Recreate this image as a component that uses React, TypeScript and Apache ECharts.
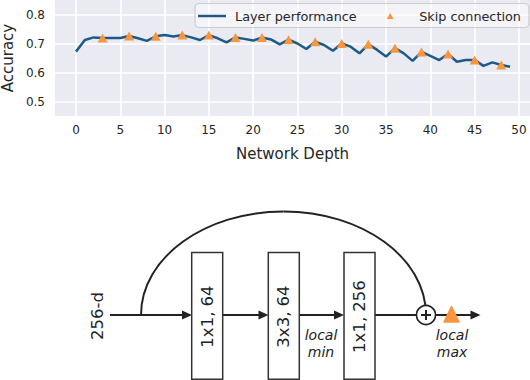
import React, { useEffect, useRef } from 'react';
import * as echarts from 'echarts';

// Accuracy at each network depth (index = depth 0..49)
const accuracy = [
  0.672, 0.712, 0.721, 0.719, 0.719, 0.719, 0.726, 0.718, 0.709, 0.725,
  0.729, 0.724, 0.729, 0.721, 0.712, 0.729, 0.718, 0.704, 0.721, 0.716,
  0.710, 0.721, 0.714, 0.697, 0.713, 0.700, 0.681, 0.706, 0.695, 0.675,
  0.700, 0.689, 0.666, 0.697, 0.678, 0.655, 0.684, 0.666, 0.640, 0.671,
  0.657, 0.643, 0.664, 0.637, 0.643, 0.643, 0.623, 0.635, 0.626, 0.620,
];
const skipDepths = [3, 6, 9, 12, 15, 18, 21, 24, 27, 30, 33, 36, 39, 42, 45, 48];
const xTicks = [0, 5, 10, 15, 20, 25, 30, 35, 40, 45, 50];
const yTicks = [0.5, 0.6, 0.7, 0.8];
const seriesNames = ['Layer performance', 'Skip connection'];
const blockLabels = ['1x1, 64', '3x3, 64', '1x1, 256'];

const LINE_BLUE = '#1d5a87';
const ORANGE = '#F8963F';
const TEXT = '#262626';
const INK = '#222222';
const FONT = 'DejaVu Sans';

function arrowHead(tipX: number, y: number) {
  return {
    type: 'polygon',
    shape: { points: [[tipX, y], [tipX - 10, y - 4.5], [tipX - 10, y + 4.5]] },
    style: { fill: INK },
  };
}

function hLine(x1: number, x2: number, y: number) {
  return {
    type: 'line',
    shape: { x1, y1: y, x2, y2: y },
    style: { stroke: INK, lineWidth: 2 },
  };
}

export default function App() {
  const ref = useRef<HTMLDivElement>(null);

  useEffect(() => {
    if (!ref.current) return;
    const chart = echarts.init(ref.current, undefined, { renderer: 'svg' });
    const lineData = accuracy.map((v, i) => [i, v]);
    const skipData = skipDepths.map((d) => [d, accuracy[d]]);

    const yMid = 315;
    const boxes = [
      { x: 191.7, label: blockLabels[0] },
      { x: 268.3, label: blockLabels[1] },
      { x: 344, label: blockLabels[2] },
    ];
    const boxW = 31;
    const boxTop = 252.5;
    const boxH = 126.8;

    const graphics: any[] = [];
    // skip arc (elliptical) from (141, 315) to plus circle at (426, 315)
    const cx = 283.5, rx = 142.5, ry = 103.5;
    const k = 0.5523;
    const topY = yMid - ry;
    graphics.push({
      type: 'bezierCurve',
      shape: {
        x1: cx - rx, y1: yMid,
        cpx1: cx - rx, cpy1: yMid - k * ry,
        cpx2: cx - k * rx, cpy2: topY,
        x2: cx, y2: topY,
      },
      style: { stroke: INK, lineWidth: 2, fill: 'none' },
    });
    graphics.push({
      type: 'bezierCurve',
      shape: {
        x1: cx, y1: topY,
        cpx1: cx + k * rx, cpy1: topY,
        cpx2: cx + rx, cpy2: yMid - k * ry,
        x2: cx + rx, y2: yMid,
      },
      style: { stroke: INK, lineWidth: 2, fill: 'none' },
    });
    // main flow lines
    graphics.push(hLine(110, 184, yMid));
    graphics.push(arrowHead(192, yMid));
    graphics.push(hLine(boxes[0].x + boxW, 260, yMid));
    graphics.push(arrowHead(268.5, yMid));
    graphics.push(hLine(boxes[1].x + boxW, 336, yMid));
    graphics.push(arrowHead(344, yMid));
    graphics.push(hLine(boxes[2].x + boxW, 417, yMid));
    graphics.push(hLine(435, 472, yMid));
    graphics.push(arrowHead(480.5, yMid));
    // boxes
    boxes.forEach((b) => {
      graphics.push({
        type: 'rect',
        shape: { x: b.x, y: boxTop, width: boxW, height: boxH },
        style: { fill: '#ffffff', stroke: '#333333', lineWidth: 1.5 },
      });
      graphics.push({
        type: 'text',
        x: b.x + boxW / 2,
        y: 316.5,
        rotation: Math.PI / 2,
        style: {
          text: b.label,
          fontFamily: FONT,
          fontSize: 16.5,
          fill: INK,
          align: 'center',
          verticalAlign: 'middle',
        },
      });
    });
    // plus circle
    graphics.push({
      type: 'circle',
      shape: { cx: 426, cy: yMid, r: 9.5 },
      style: { fill: '#ffffff', stroke: INK, lineWidth: 1.6 },
    });
    graphics.push({
      type: 'line',
      shape: { x1: 421, y1: yMid, x2: 431, y2: yMid },
      style: { stroke: INK, lineWidth: 2 },
    });
    graphics.push({
      type: 'line',
      shape: { x1: 426, y1: yMid - 5, x2: 426, y2: yMid + 5 },
      style: { stroke: INK, lineWidth: 2 },
    });
    // orange local max marker
    graphics.push({
      type: 'polygon',
      shape: { points: [[451.5, 306.5], [444, 322], [459, 322]] },
      style: { fill: ORANGE, stroke: ORANGE, lineWidth: 1.5, lineJoin: 'round' },
    });
    // 256-d label
    graphics.push({
      type: 'text',
      x: 97,
      y: 316,
      rotation: Math.PI / 2,
      style: {
        text: '256-d',
        fontFamily: FONT,
        fontSize: 16.5,
        fill: INK,
        align: 'center',
        verticalAlign: 'middle',
      },
    });
    const italicText = (t: string, x: number, y: number) => ({
      type: 'text',
      x,
      y,
      style: {
        text: t,
        fontFamily: FONT,
        fontStyle: 'italic',
        fontSize: 14,
        fill: INK,
        align: 'center',
        verticalAlign: 'middle',
      },
    });
    graphics.push(italicText('local', 321, 335));
    graphics.push(italicText('min', 321, 352));
    graphics.push(italicText('local', 452, 335));
    graphics.push(italicText('max', 452, 352));

    chart.setOption({
      animation: false,
      textStyle: { fontFamily: FONT },
      grid: {
        left: 55,
        top: 0,
        width: 475,
        height: 116,
        show: true,
        backgroundColor: '#EAEAF2',
        borderWidth: 0,
        containLabel: false,
        outerBoundsMode: 'none',
      },
      legend: {
        left: 195,
        top: 3.5,
        orient: 'horizontal',
        padding: [6, 8, 5, 3],
        itemGap: 30,
        itemWidth: 28,
        itemHeight: 6,
        backgroundColor: 'rgba(255,255,255,0.45)',
        borderColor: '#CCCCCC',
        borderWidth: 1.2,
        borderRadius: 4,
        textStyle: {
          fontFamily: FONT,
          fontSize: 12.8,
          color: TEXT,
          padding: [0, 0, 0, 4],
        },
        data: [
          { name: seriesNames[0], icon: 'path://M0,0 L28,0 L28,2.5 L0,2.5 Z' },
          {
            name: seriesNames[1],
            icon: 'path://M4,0 L8,7 L0,7 Z',
            textStyle: {
              fontFamily: FONT,
              fontSize: 12.8,
              color: TEXT,
              padding: [0, 0, 0, 10],
            },
          },
        ],
      },
      xAxis: {
        type: 'value',
        min: -2.37,
        max: 51.25,
        name: 'Network Depth',
        nameLocation: 'middle',
        nameGap: 30,
        nameTextStyle: { fontFamily: FONT, fontSize: 15, color: TEXT },
        axisLine: { show: false },
        axisTick: { show: false, customValues: xTicks },
        axisLabel: {
          customValues: xTicks,
          margin: 8,
          fontFamily: FONT,
          fontSize: 12,
          color: TEXT,
        },
        splitLine: { show: true, lineStyle: { color: '#ffffff', width: 1.6 } },
      },
      yAxis: {
        type: 'value',
        min: 0.45,
        max: 0.85,
        name: 'Accuracy',
        nameLocation: 'middle',
        nameGap: 40,
        nameTextStyle: { fontFamily: FONT, fontSize: 15, color: TEXT },
        axisLine: { show: false },
        axisTick: { show: false, customValues: yTicks },
        axisLabel: {
          customValues: yTicks,
          margin: 10,
          fontFamily: FONT,
          fontSize: 12,
          color: TEXT,
          formatter: (v: number) => v.toFixed(1),
        },
        splitLine: { show: true, lineStyle: { color: '#ffffff', width: 1.6 } },
      },
      series: [
        {
          name: seriesNames[0],
          type: 'line',
          data: lineData,
          symbol: 'none',
          lineStyle: { color: LINE_BLUE, width: 2.5 },
          itemStyle: { color: LINE_BLUE },
          z: 2,
        },
        {
          name: seriesNames[1],
          type: 'scatter',
          data: skipData,
          symbol: 'triangle',
          symbolSize: [10, 9],
          itemStyle: { color: ORANGE, opacity: 1 },
          z: 3,
        },
      ],
      graphic: graphics,
    });

    return () => {
      chart.dispose();
    };
  }, []);

  return (
    <div
      ref={ref}
      style={{ position: 'fixed', left: 0, top: 0, width: 530, height: 380, background: '#ffffff' }}
    />
  );
}
